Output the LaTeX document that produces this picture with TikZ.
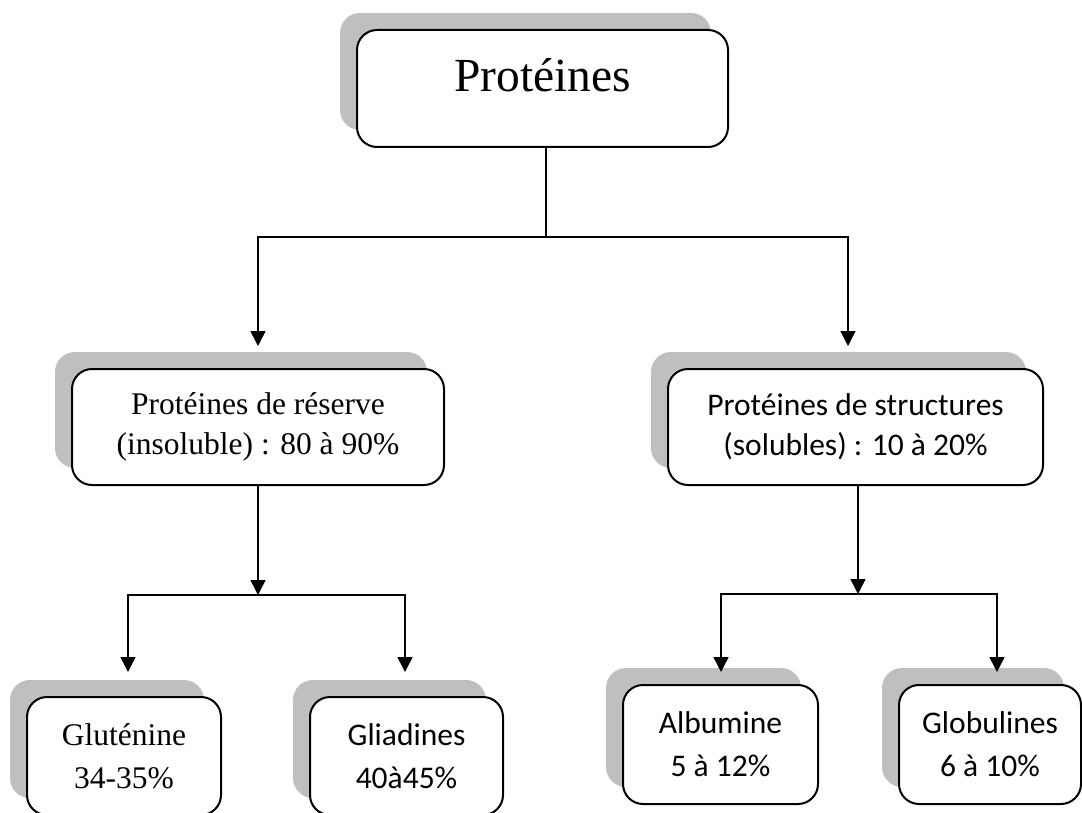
\documentclass[tikz,border=0pt]{standalone}
\usepackage{fontspec}
\setmainfont{Liberation Serif}
\newfontfamily\calib{Carlito}
\usetikzlibrary{arrows.meta,shadows}
\definecolor{shadowgray}{RGB}{191,191,191}
\begin{document}
\begin{tikzpicture}[x=1pt,y=-1pt,
  box/.style={draw=black, line width=2pt, rounded corners=20pt, fill=white, align=center, inner sep=0pt,
     general shadow={fill=shadowgray, draw=none, shadow xshift=-17pt, shadow yshift=17pt}},
  conn/.style={line width=1.5pt},
  arr/.style={conn, -{Triangle[length=15pt,width=15pt]}},
  tnrmid/.style={font=\fontsize{31.5}{40}\selectfont},
  calmid/.style={font=\calib\fontsize{31.5}{40}\selectfont},
  tnrlow/.style={font=\fontsize{31.5}{43}\selectfont},
  callow/.style={font=\calib\fontsize{31.5}{43}\selectfont},
]
\useasboundingbox (0,0) rectangle (1082,813);
\clip (0,0) rectangle (1082,813);

\node[box, minimum width=371pt, minimum height=117pt] (top) at (542.5,88.5) {};
\node[anchor=base, font=\fontsize{47.5}{57}\selectfont] (title) at (542.5,92) {Protéines};

\node[box, tnrmid, minimum width=372pt, minimum height=116pt] (midL) at (258,427) {Protéines de réserve\\(insoluble) : 80 à 90\%};
\node[box, calmid, minimum width=375pt, minimum height=116pt] (midR) at (855.5,427) {Protéines de structures\\(solubles) : 10 à 20\%};

\node[box, tnrlow, minimum width=194pt, minimum height=118pt] (glu) at (124,756) {Gluténine\\34-35\%};
\node[box, callow, minimum width=193pt, minimum height=118pt] (gli) at (406.5,756) {Gliadines\\40à45\%};
\node[box, callow, minimum width=195pt, minimum height=119pt] (alb) at (720.5,744.5) {Albumine\\5 à 12\%};
\node[box, callow, minimum width=182pt, minimum height=119pt] (glo) at (990,744.5) {Globulines\\6 à 10\%};

\coordinate (hub) at (546,237);
\coordinate (bL) at (258,237);
\coordinate (bR) at (848,237);
\draw[conn] (hub |- top.south) -- (hub);
\draw[arr, shorten >=22pt] (hub) -| (bL |- midL.north);
\draw[arr, shorten >=22pt] (hub) -| (bR |- midR.north);

\coordinate (cL) at (258,595);
\coordinate (cLa) at (128,595);
\coordinate (cLb) at (405,595);
\draw[arr] (midL.south) -- (cL);
\draw[arr, shorten >=24pt] (cL) -| (cLa |- glu.north);
\draw[arr, shorten >=24pt] (cL) -| (cLb |- gli.north);

\coordinate (cR) at (858,594);
\coordinate (cRa) at (721,594);
\coordinate (cRb) at (997,594);
\draw[arr] (cR |- midR.south) -- (cR);
\draw[arr, shorten >=12pt] (cR) -| (cRa |- alb.north);
\draw[arr, shorten >=12pt] (cR) -| (cRb |- glo.north);
\end{tikzpicture}
\end{document}
